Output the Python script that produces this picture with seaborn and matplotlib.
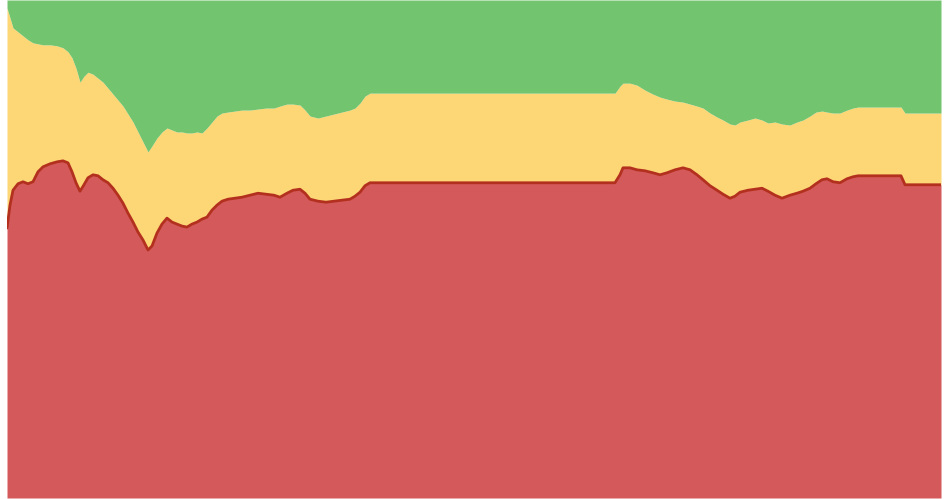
import pandas as pd
import seaborn as sns
import matplotlib
matplotlib.use("Agg")
import matplotlib.pyplot as plt

# sample positions along the time axis
days = [0, 3, 6, 11, 16, 21, 26, 31, 36, 43, 50, 56, 61, 65, 69, 73, 77, 81, 86, 91,
        96, 101, 106, 111, 116, 121, 126, 131, 136, 141, 145, 150, 155, 160, 165, 170, 175, 180, 185, 190,
        195, 200, 205, 210, 215, 221, 228, 235, 243, 251, 259, 267, 273, 280, 286, 293, 298, 303, 311, 319,
        327, 335, 343, 348, 353, 358, 363, 608, 613, 616, 623, 630, 638, 646, 653, 660, 668, 676, 683, 690,
        696, 703, 710, 716, 723, 728, 733, 741, 748, 755, 761, 768, 775, 783, 790, 796, 803, 809, 815, 820,
        826, 833, 840, 846, 851, 894, 898, 934]

# share of each group (percent, stacked bottom to top)
red = [54.2, 58.8, 61.8, 63.1, 63.5, 63.1, 63.5, 65.5, 66.5, 67.1, 67.5, 67.7, 67.3, 65.5, 63.3, 61.6, 62.9, 64.3, 64.9, 64.7,
       63.9, 63.3, 62.2, 60.8, 59.2, 57.2, 55.4, 53.4, 51.8, 49.8, 50.6, 53.2, 55.0, 56.2, 55.4, 55.0, 54.6, 54.4, 55.0, 55.4,
       56.0, 56.4, 57.8, 58.8, 59.6, 60.0, 60.2, 60.4, 60.8, 61.2, 61.0, 60.8, 60.4, 61.2, 61.8, 62.0, 61.2, 60.0, 59.6, 59.4,
       59.6, 59.8, 60.0, 60.6, 61.4, 62.7, 63.3, 63.3, 64.9, 66.3, 66.3, 65.9, 65.7, 65.3, 64.9, 65.3, 65.9, 66.3, 65.9, 64.9,
       63.9, 62.7, 61.8, 61.0, 60.2, 60.6, 61.4, 61.8, 62.0, 62.2, 61.6, 60.8, 60.2, 60.8, 61.2, 61.6, 62.2, 63.1, 63.9, 64.1,
       63.5, 63.3, 64.1, 64.5, 64.7, 64.7, 62.9, 62.9]
yellow = [44.2, 37.6, 32.6, 30.5, 29.3, 28.9, 27.9, 25.7, 24.5, 23.9, 23.3, 22.7, 22.3, 22.9, 23.0, 21.9, 21.8, 21.2, 20.2, 19.6,
          19.6, 19.0, 18.9, 19.1, 19.5, 19.9, 20.1, 20.1, 19.7, 19.7, 20.1, 19.1, 18.5, 18.1, 18.5, 18.5, 18.9, 18.9, 18.3, 18.1,
          17.3, 17.9, 17.7, 17.9, 17.7, 17.5, 17.5, 17.5, 17.1, 16.9, 17.3, 17.5, 18.3, 17.9, 17.3, 16.9, 16.7, 16.7, 16.7, 17.3,
          17.5, 17.7, 17.9, 17.7, 17.9, 18.0, 18.0, 18.0, 17.8, 17.0, 17.0, 17.0, 16.2, 15.8, 15.6, 14.8, 13.8, 13.2, 13.2, 13.8,
          14.4, 14.6, 14.7, 14.9, 14.9, 14.3, 14.1, 14.1, 14.3, 13.7, 13.7, 14.7, 14.9, 14.1, 14.3, 14.3, 14.5, 14.4, 13.8, 13.4,
          13.8, 14.0, 13.8, 13.8, 13.8, 13.8, 14.4, 14.4]
green = [1.6, 3.6, 5.6, 6.4, 7.2, 8.0, 8.6, 8.8, 9.0, 9.0, 9.2, 9.6, 10.4, 11.6, 13.7, 16.5, 15.3, 14.5, 14.9, 15.7,
         16.5, 17.7, 18.9, 20.1, 21.3, 22.9, 24.5, 26.5, 28.5, 30.5, 29.3, 27.7, 26.5, 25.7, 26.1, 26.5, 26.5, 26.7, 26.7, 26.5,
         26.7, 25.7, 24.5, 23.3, 22.7, 22.5, 22.3, 22.1, 22.1, 21.9, 21.7, 21.7, 21.3, 20.9, 20.9, 21.1, 22.1, 23.3, 23.7, 23.3,
         22.9, 22.5, 22.1, 21.7, 20.7, 19.3, 18.7, 18.7, 17.3, 16.7, 16.7, 17.1, 18.1, 18.9, 19.5, 19.9, 20.3, 20.5, 20.9, 21.3,
         21.7, 22.7, 23.5, 24.1, 24.9, 25.1, 24.5, 24.1, 23.7, 24.1, 24.7, 24.5, 24.9, 25.1, 24.5, 24.1, 23.3, 22.5, 22.3, 22.5,
         22.7, 22.7, 22.1, 21.7, 21.5, 21.5, 22.7, 22.7]

colors = ["#D4595B", "#FDD676", "#73C46E"]

df = pd.DataFrame({"day": days, "red": red, "yellow": yellow, "green": green})

sns.set_theme(style="white")
fig = plt.figure(figsize=(9.44, 4.99), dpi=100)
ax = fig.add_axes([7 / 944, 1 / 499, 934 / 944, 498 / 499])

ax.stackplot(df["day"], df["red"], df["yellow"], df["green"], colors=colors, linewidth=0)
# dark edge on top of the red area
sns.lineplot(data=df, x="day", y="red", ax=ax, color="#B3301E", linewidth=2)

ax.set_xlim(df["day"].min(), df["day"].max())
ax.set_ylim(0, 100)
ax.set_axis_off()

fig.savefig("out.png", dpi=100)
